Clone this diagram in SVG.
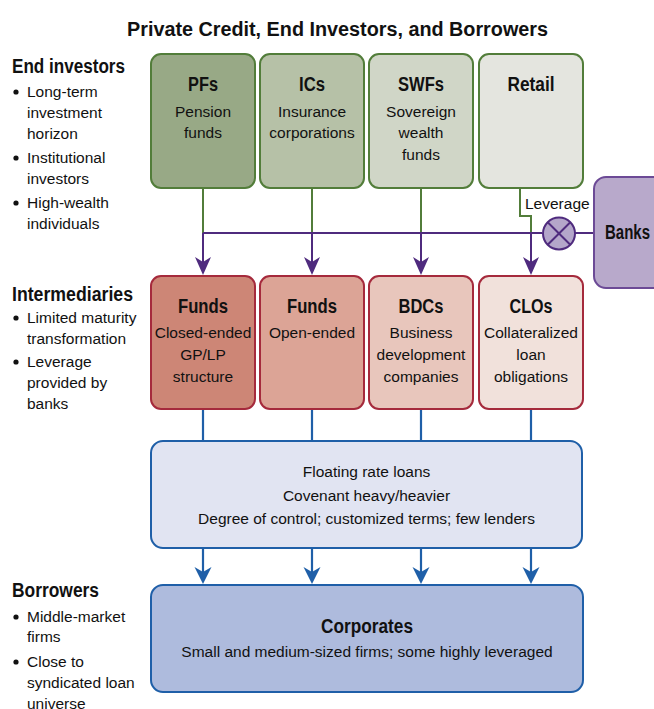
<svg xmlns="http://www.w3.org/2000/svg" width="654" height="709" viewBox="0 0 654 709">
<style>
text{font-family:"Liberation Sans",Arial,sans-serif;fill:#111;}
.h{font-weight:bold;font-size:20px;}
.t{font-size:15.5px;text-anchor:middle;}
.b{font-size:15.5px;}
.c{text-anchor:middle;}
.inv{stroke:#527d3a;stroke-width:2;}
.mid{stroke:#a52a3c;stroke-width:2;}
.blue{stroke:#1f5fa8;stroke-width:2;}
.gl{fill:none;stroke:#527d3a;stroke-width:2;}
.pl{fill:none;stroke:#4f2b7e;stroke-width:2;}
.bl{fill:none;stroke:#1f5fa8;stroke-width:2.2;}
</style>
<defs>
<path id="ahP" d="M0,0 L-8,-18 L0,-13 L8,-18 Z" fill="#4f2b7e"/>
<path id="ahB" d="M0,0 L-8.5,-17 L0,-12 L8.5,-17 Z" fill="#1f5fa8"/>
</defs>

<text x="337.5" y="36" class="h c" font-size="22" textLength="421" lengthAdjust="spacingAndGlyphs">Private Credit, End Investors, and Borrowers</text>

<g id="legend-end-investors">
<text x="12" y="73" class="h" textLength="113" lengthAdjust="spacingAndGlyphs">End investors</text>
<circle cx="16" cy="92" r="2.6" fill="#111"/>
<text x="27" y="97" class="b">Long-term</text>
<text x="27" y="118" class="b">investment</text>
<text x="27" y="139" class="b">horizon</text>
<circle cx="16" cy="158" r="2.6" fill="#111"/>
<text x="27" y="163" class="b">Institutional</text>
<text x="27" y="184" class="b">investors</text>
<circle cx="16" cy="203" r="2.6" fill="#111"/>
<text x="27" y="208" class="b">High-wealth</text>
<text x="27" y="229" class="b">individuals</text>
</g>

<g id="legend-intermediaries">
<text x="12" y="301" class="h" textLength="121" lengthAdjust="spacingAndGlyphs">Intermediaries</text>
<circle cx="16" cy="318" r="2.6" fill="#111"/>
<text x="27" y="323" class="b">Limited maturity</text>
<text x="27" y="344" class="b">transformation</text>
<circle cx="16" cy="362" r="2.6" fill="#111"/>
<text x="27" y="367" class="b">Leverage</text>
<text x="27" y="388" class="b">provided by</text>
<text x="27" y="409" class="b">banks</text>
</g>

<g id="legend-borrowers">
<text x="12" y="597" class="h" textLength="87" lengthAdjust="spacingAndGlyphs">Borrowers</text>
<circle cx="16" cy="617" r="2.6" fill="#111"/>
<text x="27" y="622" class="b">Middle-market</text>
<text x="27" y="642" class="b">firms</text>
<circle cx="16" cy="662" r="2.6" fill="#111"/>
<text x="27" y="667" class="b">Close to</text>
<text x="27" y="688" class="b">syndicated loan</text>
<text x="27" y="709" class="b">universe</text>
</g>

<g id="connectors">
<path class="gl" d="M203,188 V233 M312,188 V233 M421,188 V233 M520,188 V216 H531 V233"/>
<path class="pl" d="M203,233 H542 M575,233 H594 M203,233 V262 M312,233 V262 M421,233 V262 M531,233 V262"/>
<use href="#ahP" x="203" y="275"/>
<use href="#ahP" x="312" y="275"/>
<use href="#ahP" x="421" y="275"/>
<use href="#ahP" x="531" y="275"/>
<text x="525" y="209" class="b">Leverage</text>
<path class="bl" d="M203,409 V441 M312,409 V441 M421,409 V441 M531,409 V441 M203,548 V572 M312,548 V572 M421,548 V572 M531,548 V572"/>
<use href="#ahB" x="203" y="584"/>
<use href="#ahB" x="312" y="584"/>
<use href="#ahB" x="421" y="584"/>
<use href="#ahB" x="531" y="584"/>
</g>

<g id="leverage-valve">
<circle cx="559" cy="233.5" r="16" fill="#b4a6ca" stroke="#4f2b7e" stroke-width="2"/>
<path d="M547.7,222.2 L570.3,244.8 M570.3,222.2 L547.7,244.8" stroke="#4f2b7e" stroke-width="2"/>
</g>

<g id="banks">
<rect x="594" y="177" width="72" height="111" rx="12" fill="#b8a9cb" stroke="#6c4a96" stroke-width="2"/>
<text x="627.5" y="239" class="h c" font-size="19" textLength="45" lengthAdjust="spacingAndGlyphs">Banks</text>
</g>

<g id="pfs">
<rect x="151" y="54" width="104" height="134" rx="10" fill="#98a986" class="inv"/>
<text x="203" y="91" class="h c" textLength="30" lengthAdjust="spacingAndGlyphs">PFs</text>
<text x="203" y="117" class="t">Pension</text>
<text x="203" y="138" class="t">funds</text>
</g>
<g id="ics">
<rect x="260" y="54" width="104" height="134" rx="10" fill="#b6c1a7" class="inv"/>
<text x="312" y="91" class="h c" textLength="26" lengthAdjust="spacingAndGlyphs">ICs</text>
<text x="312" y="117" class="t">Insurance</text>
<text x="312" y="138" class="t">corporations</text>
</g>
<g id="swfs">
<rect x="369" y="54" width="104" height="134" rx="10" fill="#d0d6c7" class="inv"/>
<text x="421" y="91" class="h c" textLength="46" lengthAdjust="spacingAndGlyphs">SWFs</text>
<text x="421" y="117" class="t">Sovereign</text>
<text x="421" y="138" class="t">wealth</text>
<text x="421" y="160" class="t">funds</text>
</g>
<g id="retail">
<rect x="479" y="54" width="104" height="134" rx="10" fill="#e4e5df" class="inv"/>
<text x="531" y="91" class="h c" textLength="47" lengthAdjust="spacingAndGlyphs">Retail</text>
</g>

<g id="funds-closed">
<rect x="151" y="276" width="104" height="133" rx="10" fill="#cd8676" class="mid"/>
<text x="203" y="313" class="h c" textLength="50" lengthAdjust="spacingAndGlyphs">Funds</text>
<text x="203" y="338" class="t">Closed-ended</text>
<text x="203" y="360" class="t">GP/LP</text>
<text x="203" y="382" class="t">structure</text>
</g>
<g id="funds-open">
<rect x="260" y="276" width="104" height="133" rx="10" fill="#dca496" class="mid"/>
<text x="312" y="313" class="h c" textLength="50" lengthAdjust="spacingAndGlyphs">Funds</text>
<text x="312" y="338" class="t">Open-ended</text>
</g>
<g id="bdcs">
<rect x="369" y="276" width="104" height="133" rx="10" fill="#e8c6bc" class="mid"/>
<text x="421" y="313" class="h c" textLength="45" lengthAdjust="spacingAndGlyphs">BDCs</text>
<text x="421" y="338" class="t">Business</text>
<text x="421" y="360" class="t">development</text>
<text x="421" y="382" class="t">companies</text>
</g>
<g id="clos">
<rect x="479" y="276" width="104" height="133" rx="10" fill="#f1e1db" class="mid"/>
<text x="531" y="313" class="h c" textLength="43" lengthAdjust="spacingAndGlyphs">CLOs</text>
<text x="531" y="338" class="t">Collateralized</text>
<text x="531" y="360" class="t">loan</text>
<text x="531" y="382" class="t">obligations</text>
</g>

<g id="loans">
<rect x="151" y="441" width="431" height="107" rx="12" fill="#e1e4f2" class="blue"/>
<text x="366.5" y="477" class="t">Floating rate loans</text>
<text x="366.5" y="501" class="t">Covenant heavy/heavier</text>
<text x="366.5" y="524" class="t" font-size="16">Degree of control; customized terms; few lenders</text>
</g>

<g id="corporates">
<rect x="151" y="585" width="432" height="107" rx="12" fill="#aebbdd" class="blue"/>
<text x="367" y="633" class="h c" textLength="92" lengthAdjust="spacingAndGlyphs">Corporates</text>
<text x="367" y="657" class="t" font-size="16">Small and medium-sized firms; some highly leveraged</text>
</g>
</svg>
